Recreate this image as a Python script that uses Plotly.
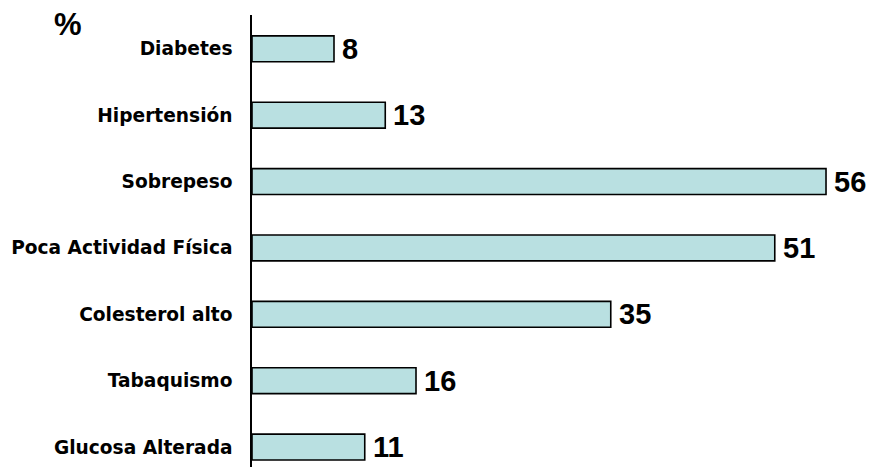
import plotly.graph_objects as go

categories = ["Glucosa Alterada", "Tabaquismo", "Colesterol alto",
              "Poca Actividad Física", "Sobrepeso", "Hipertensión", "Diabetes"]
values = [11, 16, 35, 51, 56, 13, 8]
unit_label = "%"

fig = go.Figure()
fig.add_trace(go.Bar(
    x=values, y=categories, orientation="h",
    marker=dict(color="#b9e0e1", line=dict(color="black", width=1.6)),
    hoverinfo="skip",
))

for v, c in zip(values, categories):
    fig.add_annotation(
        x=v, y=c, xref="x", yref="y", text=str(v), showarrow=False,
        xanchor="left", yanchor="middle", xshift=6,
        font=dict(family="Liberation Sans, Arial", size=29, color="black", weight="bold"),
    )

fig.add_annotation(
    x=-0.30, y=0.978, xref="paper", yref="paper", text=unit_label, showarrow=False,
    xanchor="center", yanchor="middle",
    font=dict(family="Liberation Sans, Arial", size=31, color="black", weight="bold"),
)

# The page body adds an 8px margin, so the figure is sized to fit inside the window.
fig.update_layout(
    width=858, height=459,
    margin=dict(l=244, r=0, t=7, b=0),
    plot_bgcolor="white", paper_bgcolor="white",
    bargap=0.61,
    showlegend=False,
    xaxis=dict(range=[0, 59.9], showgrid=False, zeroline=False, showline=False,
               showticklabels=False, ticks="", automargin=False),
    yaxis=dict(categoryorder="array", categoryarray=categories,
               range=[-0.30, 6.51], showgrid=False, zeroline=False,
               showline=True, linecolor="black", linewidth=1.5, ticks="",
               ticklabelstandoff=14, automargin=False,
               tickfont=dict(family="DejaVu Sans", size=18.6, color="black", weight="bold")),
)

fig.write_html("out.html")
